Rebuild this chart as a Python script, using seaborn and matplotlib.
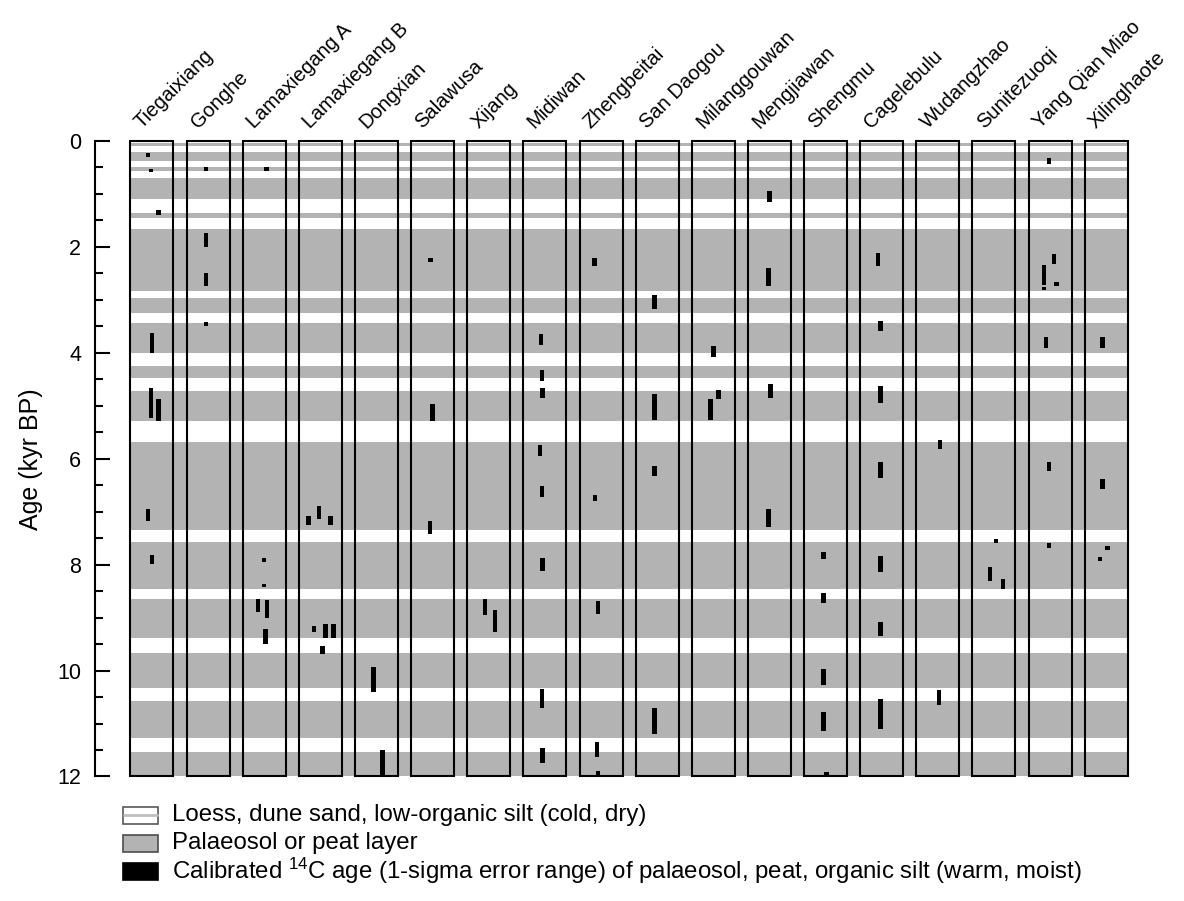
import numpy as np
import pandas as pd
import seaborn as sns
import matplotlib.pyplot as plt
from matplotlib.patches import Rectangle

# sites, left to right
sites = ['Tiegaixiang', 'Gonghe', 'Lamaxiegang A', 'Lamaxiegang B', 'Dongxian',
         'Salawusa', 'Xijang', 'Midiwan', 'Zhengbeitai', 'San Daogou',
         'Milanggouwan', 'Mengjiawan', 'Shengmu', 'Cagelebulu', 'Wudangzhao',
         'Sunitezuoqi', 'Yang Qian Miao', 'Xilinghaote']

# palaeosol / peat layers (kyr BP), top and bottom
soil_top = [0.04, 0.21, 0.49, 0.69, 1.36, 1.66, 2.97, 3.43, 4.24, 4.73,
            5.68, 7.58, 8.64, 9.66, 10.57, 11.53]
soil_bot = [0.10, 0.38, 0.57, 1.09, 1.45, 2.83, 3.25, 4.00, 4.48, 5.28,
            7.35, 8.46, 9.39, 10.33, 11.27, 12.00]

# calibrated 14C ages (1-sigma range): site index, offset in column, young and old end
mark_site = [0, 0, 0, 0, 0, 0, 0, 0,
             1, 1, 1, 1,
             2, 2, 2, 2, 2, 2,
             3, 3, 3, 3, 3, 3, 3,
             4, 4,
             5, 5, 5,
             6, 6,
             7, 7, 7, 7, 7, 7, 7, 7,
             8, 8, 8, 8, 8,
             9, 9, 9, 9,
             10, 10, 10,
             11, 11, 11, 11,
             12, 12, 12, 12, 12,
             13, 13, 13, 13, 13, 13, 13,
             14, 14,
             15, 15, 15,
             16, 16, 16, 16, 16, 16, 16, 16,
             17, 17, 17, 17]
mark_dx = [-0.07, -0.02, 0.12, 0.0, -0.02, 0.12, -0.07, 0.0,
           -0.04, -0.04, -0.04, -0.04,
           0.04, 0.0, 0.0, -0.11, 0.05, 0.02,
           -0.21, -0.02, 0.18, -0.11, 0.09, 0.23, 0.04,
           -0.05, 0.11,
           -0.04, 0.0, -0.05,
           -0.07, 0.11,
           -0.07, -0.05, -0.04, -0.09, -0.05, -0.04, -0.05, -0.04,
           -0.12, -0.11, -0.05, -0.07, -0.05,
           -0.05, -0.05, -0.05, -0.05,
           0.0, 0.09, -0.05,
           0.0, -0.02, 0.02, -0.02,
           -0.04, -0.04, -0.04, -0.04, 0.02,
           -0.07, -0.02, -0.02, -0.02, -0.02, -0.02, -0.02,
           0.04, 0.02,
           0.04, -0.07, 0.16,
           -0.02, 0.07, -0.11, -0.11, 0.11, -0.07, -0.02, -0.02,
           -0.07, -0.07, 0.02, -0.11]
mark_young = [0.22, 0.53, 1.31, 3.62, 4.67, 4.88, 6.94, 7.82,
              0.50, 1.73, 2.49, 3.42,
              0.50, 7.87, 8.37, 8.65, 8.67, 9.22,
              7.08, 6.90, 7.09, 9.16, 9.13, 9.13, 9.53,
              9.93, 11.50,
              2.21, 4.97, 7.18,
              8.65, 8.86,
              3.64, 4.32, 4.66, 5.74, 6.51, 7.88, 10.35, 11.47,
              2.21, 6.68, 8.68, 11.34, 11.90,
              2.91, 4.78, 6.14, 10.71,
              3.88, 4.70, 4.88,
              0.94, 2.39, 4.59, 6.95,
              7.77, 8.54, 9.97, 10.79, 11.91,
              2.11, 3.39, 4.63, 6.06, 7.84, 9.09, 10.54,
              5.65, 10.37,
              7.51, 8.05, 8.27,
              0.32, 2.14, 2.34, 2.75, 2.66, 3.71, 6.07, 7.60,
              3.71, 6.38, 7.64, 7.85]
mark_old = [0.30, 0.58, 1.39, 4.00, 5.24, 5.28, 7.17, 7.99,
            0.57, 2.00, 2.73, 3.50,
            0.57, 7.95, 8.43, 8.89, 9.01, 9.50,
            7.25, 7.14, 7.25, 9.27, 9.38, 9.38, 9.69,
            10.40, 12.00,
            2.29, 5.28, 7.42,
            8.96, 9.28,
            3.85, 4.53, 4.85, 5.94, 6.72, 8.12, 10.71, 11.75,
            2.36, 6.80, 8.93, 11.64, 12.00,
            3.18, 5.27, 6.32, 11.20,
            4.07, 4.87, 5.27,
            1.15, 2.73, 4.86, 7.28,
            7.90, 8.73, 10.27, 11.14, 12.00,
            2.36, 3.58, 4.94, 6.37, 8.13, 9.35, 11.11,
            5.82, 10.65,
            7.59, 8.30, 8.46,
            0.43, 2.32, 2.72, 2.82, 2.74, 3.90, 6.24, 7.68,
            3.90, 6.57, 7.72, 7.93]

marks = pd.DataFrame({'site': mark_site, 'dx': mark_dx,
                      'young': mark_young, 'old': mark_old})
marks['x'] = marks['site'] + marks['dx']
marks['span'] = marks['old'] - marks['young']

sns.set_style('ticks')
plt.rcParams['font.family'] = ['Liberation Sans', 'DejaVu Sans']
plt.rcParams['mathtext.default'] = 'regular'
plt.rcParams['text.color'] = 'black'
plt.rcParams['axes.labelcolor'] = 'black'
plt.rcParams['ytick.color'] = 'black'

fig = plt.figure(figsize=(11.84, 9.01), dpi=100)
ax = fig.add_axes([0.0802, 0.1382, 0.8826, 0.7053])

n = len(sites)
half = 0.383
grey = '#b3b3b3'

# palaeosol bands across all columns
for t, b in zip(soil_top, soil_bot):
    ax.barh((t + b) / 2, 2 * half + n - 1, height=b - t, left=-half,
            color=grey, linewidth=0, zorder=1)

# radiocarbon ages
ax.bar(marks['x'], marks['span'], bottom=marks['young'], width=0.08,
       color='black', linewidth=0, zorder=3)

# column outlines and labels
for i, name in enumerate(sites):
    ax.add_patch(Rectangle((i - half, 0), 2 * half, 12, fill=False,
                           edgecolor='black', linewidth=1.5, zorder=4,
                           clip_on=False))
    ax.text(i - 0.18, -0.22, name, rotation=45, rotation_mode='anchor',
            ha='left', va='baseline', fontsize=14.5, clip_on=False)

ax.set_xlim(-1.015, n - 1 + 0.6)
ax.set_ylim(12, 0)
ax.set_xticks([])
ax.set_yticks(np.arange(0, 13, 2))
ax.set_yticks(np.arange(0, 12.01, 0.5), minor=True)
ax.tick_params(axis='y', which='major', direction='in', length=11, width=1.5,
               labelsize=15.5, pad=10, color='black', labelcolor='black')
ax.tick_params(axis='y', which='minor', direction='in', length=6, width=1.5,
               color='black')
ax.set_ylabel('Age (kyr BP)', fontsize=18, labelpad=10)
sns.despine(ax=ax, bottom=True)
ax.spines['left'].set_linewidth(1.5)
ax.spines['left'].set_color('black')
ax.patch.set_alpha(0)

# legend
lx, lw, lh = 123 / 1184, 35 / 1184, 17 / 901
rows = [815, 843, 871]
texts = ['Loess, dune sand, low-organic silt (cold, dry)',
         'Palaeosol or peat layer',
         'Calibrated $^{14}$C age (1-sigma error range) of palaeosol, peat, organic silt (warm, moist)']
fills = ['white', grey, 'black']
edges = ['0.35', '0.3', 'black']
for r, txt, fc, ec in zip(rows, texts, fills, edges):
    yc = 1 - r / 901
    fig.add_artist(Rectangle((lx, yc - lh / 2), lw, lh, facecolor=fc,
                             edgecolor=ec, linewidth=1.2,
                             transform=fig.transFigure))
    if fc == 'white':
        fig.add_artist(plt.Line2D([lx + 0.001, lx + lw - 0.001], [yc, yc],
                                  color='0.75', linewidth=2,
                                  transform=fig.transFigure))
    fig.text(172 / 1184, yc, txt, fontsize=17.3, va='center', ha='left')

fig.savefig('out.png', dpi=100)
